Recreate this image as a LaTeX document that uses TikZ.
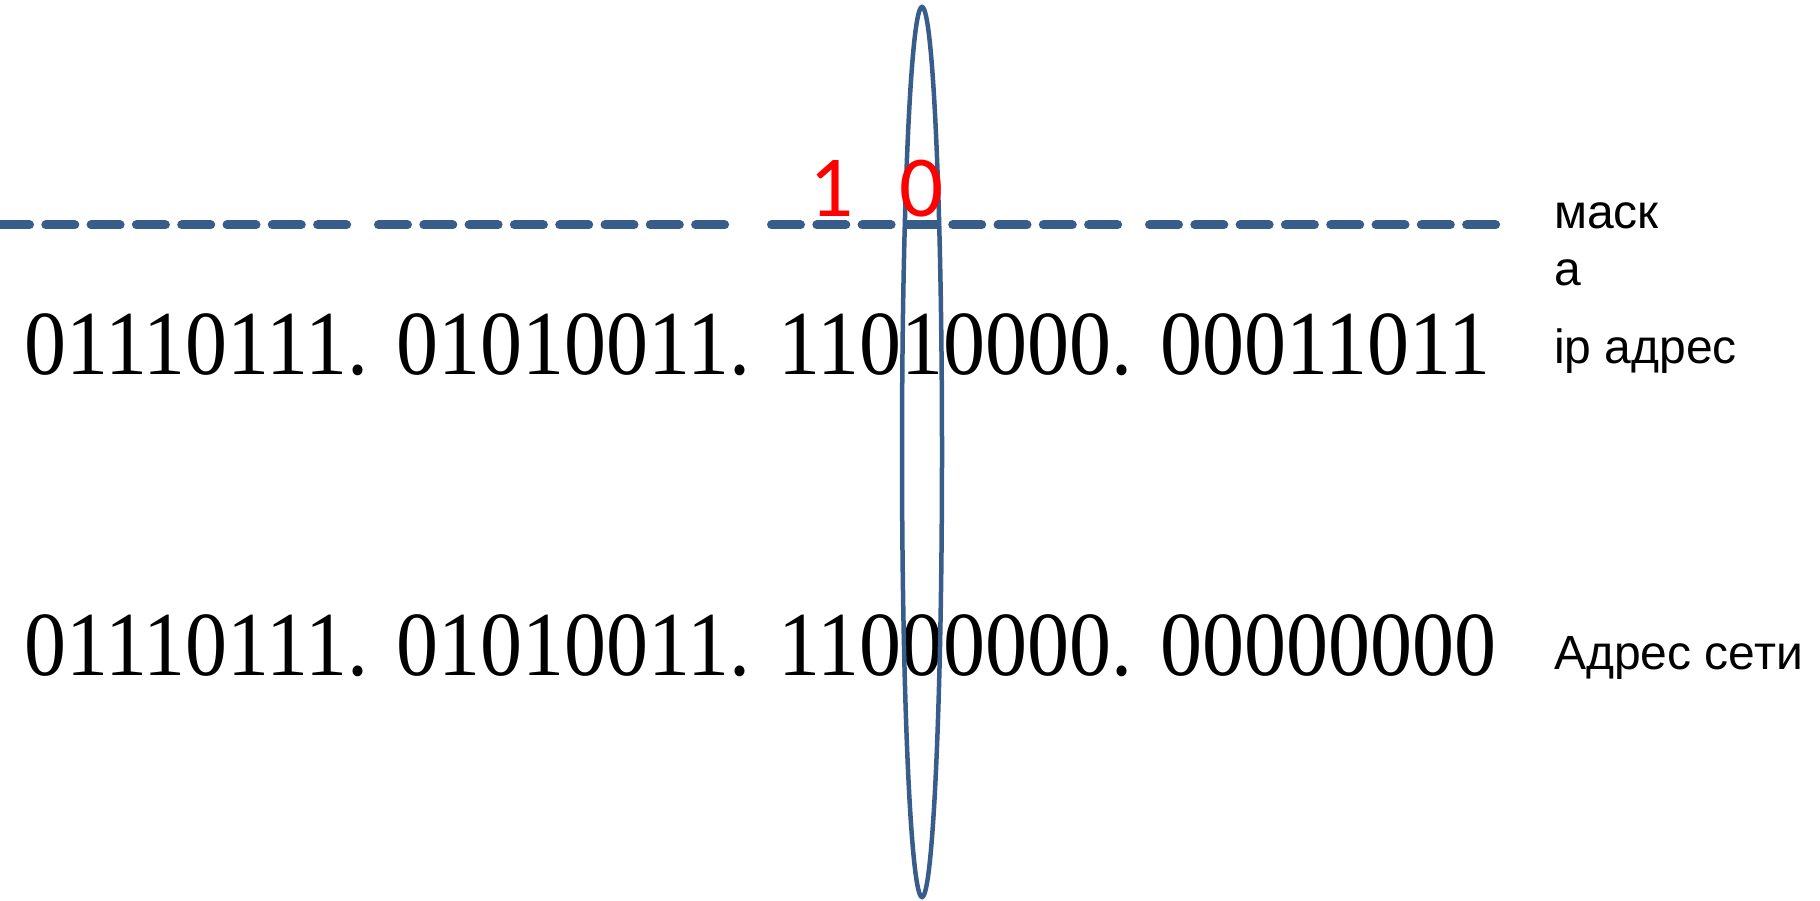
\documentclass[tikz,border=0pt]{standalone}
\usepackage{fontspec}
\usepackage{graphicx}
\setmainfont{Liberation Serif}
\newfontfamily\labelfont{Liberation Sans}
\newfontfamily\redfont{Carlito}
\definecolor{lineblue}{HTML}{385D8A}
\definecolor{maskred}{HTML}{FF0000}
\newcommand{\tallbits}[1]{\scalebox{1}[1.09]{#1}}
\begin{document}
\begin{tikzpicture}[x=1pt,y=-1pt,
  bits/.style={anchor=base west,inner sep=0pt,font=\fontsize{84}{100}\selectfont},
  lbl/.style={anchor=base west,inner sep=0pt,font=\labelfont\fontsize{48}{57}\selectfont},
  redbit/.style={anchor=base west,inner sep=0pt,text=maskred,font=\redfont\fontsize{87}{100}\selectfont},
  maskline/.style={draw=lineblue,line width=9pt,line cap=round,dash pattern=on 29pt off 16.3pt},
  oval/.style={draw=lineblue,line width=4.5pt}]
\useasboundingbox (0,0) rectangle (1820,901);
% mask line: four groups of eight dashes
\coordinate (g1a) at (0.5,225);    \coordinate (g1b) at (346.6,225);
\coordinate (g2a) at (378.5,225);  \coordinate (g2b) at (724.6,225);
\coordinate (g3a) at (771.5,225);  \coordinate (g3b) at (1117.6,225);
\coordinate (g4a) at (1149.5,225); \coordinate (g4b) at (1495.6,225);
\draw[maskline] (g1a) -- (g1b);
\draw[maskline] (g2a) -- (g2b);
\draw[maskline] (g3a) -- (g3b);
\draw[maskline] (g4a) -- (g4b);
% binary rows
\node[bits] (ip) at (24,374) {\tallbits{01110111. 01010011. 11010000. 00011011}};
\node[bits] (net) at (24,675) {\tallbits{01110111. 01010011. 11000000. 00000000}};
% labels
\node[lbl] (mask1) at (1554,229) {маск};
\node[lbl] (mask2) at (1554,286) {а};
\node[lbl] (iplbl) at (1554,363) {ip адрес};
\node[lbl] (netlbl) at (1554,669) {Адрес сети};
% oval around bit 20
\draw[oval] (922,452) ellipse [x radius=20pt, y radius=445pt];
% red mask bits
\node[redbit] (one) at (809,217) {1};
\node[redbit] (zero) at (899,217) {0};
\end{tikzpicture}
\end{document}
